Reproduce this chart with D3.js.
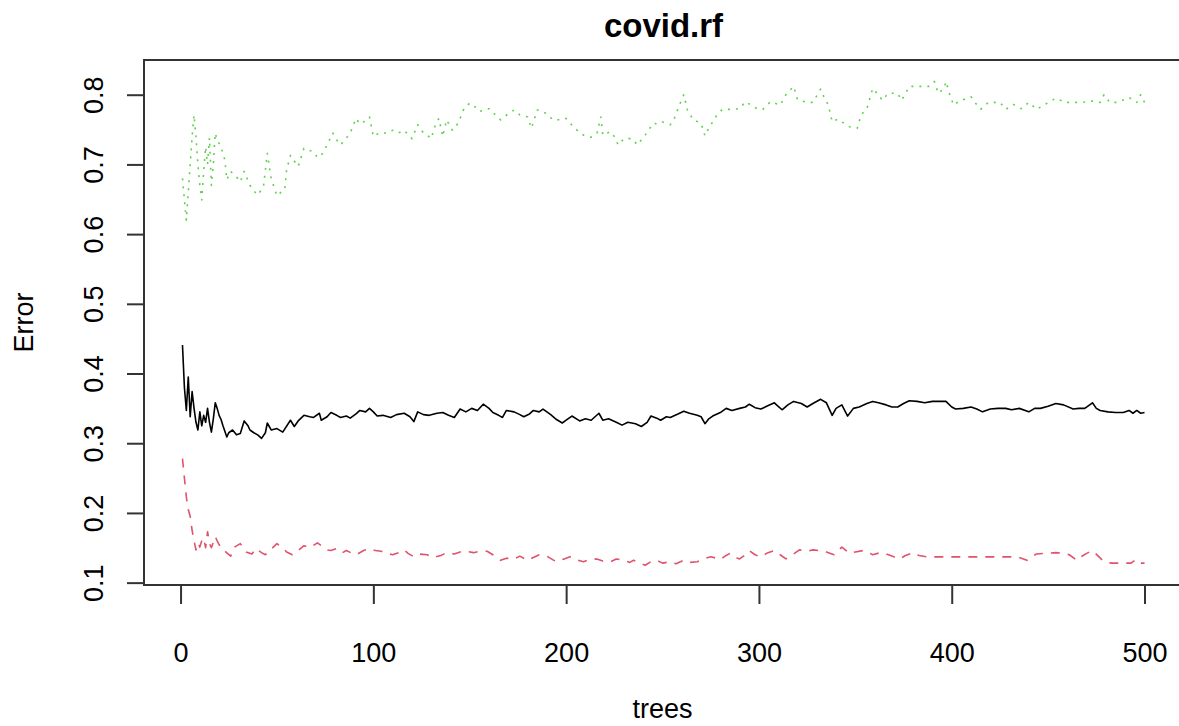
<!DOCTYPE html>
<html>
<head>
<meta charset="utf-8">
<script src="https://cdn.jsdelivr.net/npm/d3@7"></script>
<style>
  body { margin: 0; background: #fff; }
  text { font-family: "Liberation Sans", Arial, Helvetica, sans-serif; fill: #000; }
  .title { font-size: 33px; font-weight: bold; }
  .axis-title { font-size: 27px; }
  .axis text { font-size: 27px; }
</style>
</head>
<body>
<svg id="errPlot"></svg>
<script>
// size of the page / picture
const width = 1179;
const height = 726;

// plot box (right side runs off the picture, like the original)
const box = { left: 144, right: 1183, top: 60, bottom: 585 };

// ---- data ----
const xTicks = [0, 100, 200, 300, 400, 500];
const yTicks = [0.1, 0.2, 0.3, 0.4, 0.5, 0.6, 0.7, 0.8];

// OOB error (black, solid)
const oobTrees = [1,2,3,4,5,6,7,8,9,10,11,12,13,14,15,16,17,18,19,20,21,22,24,25,27,29,31,33,35,36,38,40,42,44,45,47,50,53,57,59,61,64,67,69,72,73,76,78,81,83,86,88,91,93,96,98,100,102,105,109,112,116,119,121,123,126,129,133,136,139,142,145,148,151,154,157,160,162,165,167,169,173,176,178,181,183,186,188,192,195,198,200,203,207,210,213,217,219,222,226,229,232,236,239,242,244,247,249,252,254,258,261,264,268,270,272,274,276,280,283,286,290,293,295,298,301,304,308,310,312,315,318,322,325,328,332,335,338,340,343,346,349,352,356,359,362,366,369,372,375,378,382,386,390,394,397,400,402,406,410,413,416,420,424,428,431,435,440,443,446,450,454,458,463,466,469,473,475,477,481,485,489,492,494,496,498,500];
const oobError = [0.441,0.380,0.347,0.395,0.338,0.374,0.350,0.330,0.319,0.345,0.325,0.340,0.330,0.350,0.330,0.316,0.335,0.358,0.350,0.340,0.334,0.325,0.309,0.315,0.319,0.312,0.314,0.332,0.325,0.319,0.315,0.312,0.307,0.315,0.329,0.319,0.321,0.316,0.333,0.324,0.332,0.340,0.338,0.337,0.343,0.333,0.338,0.344,0.340,0.337,0.339,0.336,0.342,0.347,0.345,0.350,0.345,0.339,0.340,0.337,0.341,0.343,0.338,0.331,0.345,0.341,0.340,0.343,0.344,0.340,0.337,0.349,0.345,0.350,0.347,0.356,0.350,0.344,0.340,0.337,0.347,0.345,0.341,0.338,0.342,0.347,0.345,0.349,0.341,0.334,0.329,0.333,0.339,0.332,0.335,0.333,0.343,0.333,0.335,0.330,0.326,0.330,0.328,0.324,0.330,0.339,0.336,0.333,0.338,0.337,0.342,0.346,0.343,0.340,0.338,0.328,0.335,0.339,0.344,0.350,0.347,0.350,0.352,0.356,0.351,0.349,0.353,0.358,0.353,0.348,0.355,0.360,0.357,0.352,0.357,0.363,0.358,0.340,0.350,0.355,0.339,0.350,0.352,0.357,0.360,0.358,0.355,0.352,0.352,0.357,0.361,0.360,0.358,0.360,0.360,0.360,0.352,0.349,0.350,0.352,0.349,0.345,0.349,0.350,0.350,0.348,0.350,0.345,0.350,0.350,0.353,0.357,0.355,0.349,0.350,0.350,0.358,0.350,0.347,0.345,0.344,0.344,0.347,0.343,0.347,0.343,0.344];

// class 1 error (red, dashed)
const c1Trees = [1,2,3,4,5,6,7,8,9,10,11,12,13,14,15,16,18,19,21,23,26,28,31,34,37,39,42,44,47,50,53,55,58,61,64,67,71,73,76,78,81,84,86,89,91,95,98,101,104,107,110,113,116,118,121,124,128,131,135,138,142,145,148,152,155,159,162,166,169,173,176,180,183,186,190,193,195,199,202,205,209,212,216,219,223,226,230,233,235,238,241,244,247,250,254,257,261,264,268,271,275,278,280,283,285,288,290,293,295,298,301,304,308,311,314,318,321,325,328,331,333,336,339,343,347,350,354,357,359,363,366,370,373,376,380,383,387,390,395,400,410,420,432,435,439,442,444,448,454,458,461,465,467,470,473,476,479,483,487,490,493,495,496,500];
const c1Error = [0.278,0.250,0.223,0.205,0.195,0.175,0.160,0.147,0.157,0.151,0.160,0.164,0.150,0.173,0.156,0.150,0.166,0.160,0.149,0.145,0.138,0.151,0.156,0.144,0.141,0.149,0.143,0.140,0.148,0.156,0.150,0.144,0.140,0.146,0.153,0.150,0.157,0.153,0.147,0.146,0.149,0.143,0.146,0.142,0.140,0.146,0.149,0.146,0.145,0.142,0.140,0.143,0.147,0.142,0.137,0.141,0.140,0.136,0.139,0.143,0.141,0.144,0.145,0.143,0.145,0.145,0.140,0.132,0.135,0.134,0.138,0.132,0.136,0.140,0.138,0.133,0.130,0.134,0.137,0.133,0.130,0.133,0.134,0.131,0.130,0.134,0.132,0.129,0.132,0.128,0.125,0.130,0.132,0.128,0.130,0.127,0.132,0.129,0.130,0.134,0.137,0.135,0.133,0.139,0.142,0.136,0.134,0.140,0.146,0.140,0.137,0.142,0.146,0.140,0.134,0.141,0.147,0.145,0.147,0.146,0.146,0.143,0.140,0.151,0.142,0.144,0.146,0.143,0.140,0.143,0.141,0.137,0.134,0.139,0.143,0.139,0.137,0.137,0.137,0.137,0.137,0.137,0.137,0.136,0.132,0.138,0.141,0.142,0.143,0.142,0.140,0.132,0.137,0.142,0.146,0.138,0.130,0.128,0.128,0.128,0.128,0.132,0.128,0.128];

// class 2 error (green, dotted)
const c2Trees = [1,2,3,4,5,6,7,8,9,10,11,12,13,14,15,16,17,18,19,21,23,24,26,29,31,33,36,38,40,43,45,47,50,52,54,55,57,59,61,64,67,69,71,73,76,79,81,83,86,88,91,93,95,98,100,103,107,110,113,116,118,120,123,126,128,130,132,134,136,138,141,144,147,150,153,155,158,160,163,166,168,170,173,176,178,180,182,185,188,191,193,197,200,204,207,209,213,216,218,219,223,225,227,230,234,237,239,241,243,245,248,250,254,256,258,261,263,266,270,272,274,276,278,281,285,290,293,296,299,302,306,311,314,318,320,325,328,332,334,336,338,341,343,347,351,353,356,359,362,364,367,372,374,378,383,388,391,393,396,397,399,401,404,410,412,415,419,425,428,432,436,440,444,449,454,459,464,468,473,477,479,482,486,492,496,498,500];
const c2Error = [0.680,0.650,0.620,0.660,0.700,0.740,0.771,0.740,0.700,0.670,0.649,0.690,0.725,0.700,0.738,0.670,0.700,0.745,0.735,0.725,0.706,0.678,0.690,0.682,0.675,0.690,0.670,0.662,0.656,0.668,0.716,0.680,0.655,0.660,0.663,0.692,0.713,0.705,0.697,0.723,0.720,0.718,0.710,0.713,0.728,0.745,0.735,0.728,0.738,0.745,0.766,0.758,0.761,0.768,0.740,0.745,0.745,0.749,0.745,0.749,0.743,0.737,0.757,0.745,0.742,0.737,0.755,0.766,0.740,0.764,0.749,0.759,0.780,0.788,0.782,0.776,0.778,0.780,0.772,0.764,0.768,0.773,0.778,0.771,0.770,0.768,0.752,0.778,0.776,0.770,0.764,0.764,0.766,0.753,0.746,0.742,0.739,0.745,0.768,0.742,0.747,0.740,0.728,0.737,0.737,0.728,0.735,0.742,0.750,0.759,0.758,0.761,0.757,0.765,0.780,0.800,0.777,0.764,0.759,0.741,0.752,0.761,0.770,0.779,0.779,0.780,0.790,0.785,0.780,0.779,0.790,0.785,0.800,0.812,0.793,0.789,0.789,0.808,0.795,0.785,0.761,0.765,0.761,0.754,0.752,0.771,0.780,0.809,0.800,0.792,0.802,0.802,0.792,0.812,0.812,0.812,0.819,0.802,0.809,0.819,0.800,0.785,0.791,0.797,0.789,0.779,0.789,0.789,0.779,0.786,0.780,0.789,0.779,0.787,0.795,0.789,0.789,0.789,0.791,0.789,0.800,0.789,0.789,0.796,0.789,0.800,0.789];

const seriesNames = ["OOB", "1", "2"];
const seriesColors = ["#000000", "#DF536B", "#61D04F"];
const seriesDash = [null, "9,8", "2,6"];

// select svg and set size
const svg = d3.select("#errPlot");
svg.attr("width", width).attr("height", height);

// R pads the data range by 4% on each side
const xScale = d3.scaleLinear()
  .domain([-18.96, 519.96])
  .range([box.left, box.right]);

const yScale = d3.scaleLinear()
  .domain([0.0966, 0.8498])
  .range([box.bottom, box.top]);

drawLines();
drawAxis();
drawTitles();

function translate(x, y) {
  return "translate(" + String(x) + "," + String(y) + ")";
}

/*
 * draw the three error curves
 */
function drawLines() {
  let series = [
    d3.zip(oobTrees, oobError),
    d3.zip(c1Trees, c1Error),
    d3.zip(c2Trees, c2Error)
  ];

  let line = d3.line()
    .x(d => xScale(d[0]))
    .y(d => yScale(d[1]));

  let g = svg.append("g").attr("id", "lines");

  // draw green first, black last so it sits on top
  [2, 1, 0].forEach(i => {
    g.append("path")
      .datum(series[i])
      .attr("class", "series-" + seriesNames[i])
      .attr("d", line)
      .attr("fill", "none")
      .attr("stroke", seriesColors[i])
      .attr("stroke-width", 1.6)
      .attr("stroke-linejoin", "round")
      .attr("stroke-dasharray", seriesDash[i]);
  });
}

/*
 * box, axes and tick labels in the R base-graphics style
 */
function drawAxis() {
  // plot frame
  svg.append("rect")
    .attr("x", box.left)
    .attr("y", box.top)
    .attr("width", box.right - box.left)
    .attr("height", box.bottom - box.top)
    .attr("fill", "none")
    .attr("stroke", "#333")
    .attr("stroke-width", 2);

  let xAxis = d3.axisBottom(xScale).tickValues(xTicks).tickSize(19).tickSizeOuter(0).tickPadding(17);
  let yAxis = d3.axisLeft(yScale).tickValues(yTicks).tickSize(17).tickSizeOuter(0).tickFormat(d3.format(".1f"));

  let xg = svg.append("g")
    .attr("id", "x-axis")
    .attr("class", "axis")
    .attr("transform", translate(0, box.bottom))
    .call(xAxis);

  // R axis line runs only from first to last tick
  xg.select("path.domain")
    .attr("d", "M" + xScale(xTicks[0]) + ",0H" + xScale(xTicks[xTicks.length - 1]));

  let yg = svg.append("g")
    .attr("id", "y-axis")
    .attr("class", "axis")
    .attr("transform", translate(box.left, 0))
    .call(yAxis);

  yg.select("path.domain")
    .attr("d", "M0," + yScale(yTicks[0]) + "V" + yScale(yTicks[yTicks.length - 1]));

  svg.selectAll(".axis path, .axis line")
    .attr("stroke", "#333")
    .attr("stroke-width", 2);

  xg.selectAll("text")
    .attr("y", 77)
    .attr("dy", null)
    .attr("font-family", null)
    .attr("font-size", null);

  // y labels are rotated, as in R's default las = 0
  yg.selectAll("text")
    .attr("x", null)
    .attr("dy", null)
    .attr("font-family", null)
    .attr("font-size", null)
    .attr("text-anchor", "middle")
    .attr("transform", translate(103 - box.left, 0) + " rotate(-90)");

  svg.selectAll(".axis").attr("font-family", null).attr("font-size", null);
}

function drawTitles() {
  let xMiddle = (box.left + box.right) / 2;
  let yMiddle = (box.top + box.bottom) / 2;

  svg.append("text")
    .attr("class", "title")
    .attr("x", xMiddle)
    .attr("y", 37)
    .attr("text-anchor", "middle")
    .text("covid.rf");

  svg.append("text")
    .attr("class", "axis-title")
    .attr("x", (xScale(0) + xScale(500)) / 2)
    .attr("y", 718)
    .attr("text-anchor", "middle")
    .text("trees");

  svg.append("g")
    .attr("transform", translate(33, yMiddle))
    .append("text")
    .attr("class", "axis-title")
    .attr("text-anchor", "middle")
    .attr("transform", "rotate(-90)")
    .text("Error");
}
</script>
</body>
</html>
